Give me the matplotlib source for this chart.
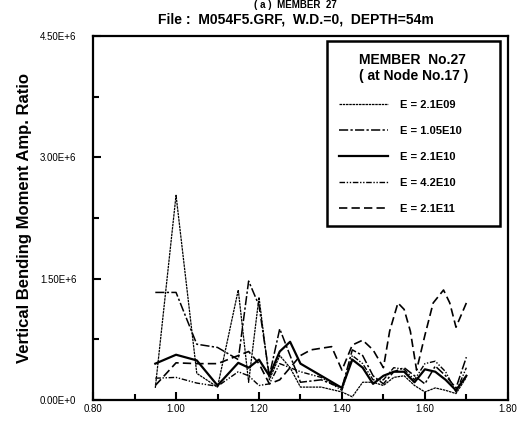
import matplotlib
matplotlib.use("Agg")
import matplotlib.pyplot as plt
from matplotlib.lines import Line2D
from matplotlib.ticker import MultipleLocator, FixedLocator, FormatStrFormatter

plt.rcParams['font.family'] = ['Liberation Sans', 'DejaVu Sans']

# frequency ratio (x) and amplitude ratio (y, in 1E6) per E value
x_a = [0.95, 1.00, 1.05, 1.10, 1.15, 1.175, 1.20, 1.225, 1.25, 1.275, 1.30, 1.35, 1.40, 1.425,
       1.45, 1.475, 1.50, 1.525, 1.55, 1.575, 1.60, 1.625, 1.65, 1.675, 1.70]
y_a = [0.15, 2.53, 0.33, 0.16, 1.36, 0.22, 1.27, 0.25, 0.55, 0.40, 0.16, 0.16, 0.10, 0.04,
       0.22, 0.22, 0.18, 0.28, 0.30, 0.18, 0.10, 0.15, 0.12, 0.08, 0.28]

x_b = [0.95, 1.00, 1.05, 1.10, 1.15, 1.175, 1.20, 1.225, 1.25, 1.275, 1.30, 1.35, 1.40, 1.425,
       1.45, 1.475, 1.50, 1.525, 1.55, 1.575, 1.60, 1.625, 1.65, 1.675, 1.70]
y_b = [1.33, 1.33, 0.69, 0.65, 0.50, 1.47, 1.17, 0.30, 0.88, 0.55, 0.22, 0.25, 0.15, 0.62,
       0.55, 0.30, 0.20, 0.35, 0.40, 0.30, 0.20, 0.42, 0.30, 0.15, 0.53]

x_c = [0.95, 1.00, 1.05, 1.10, 1.15, 1.175, 1.20, 1.225, 1.25, 1.275, 1.30, 1.35, 1.40, 1.425,
       1.45, 1.475, 1.50, 1.525, 1.55, 1.575, 1.60, 1.625, 1.65, 1.675, 1.70]
y_c = [0.45, 0.56, 0.49, 0.18, 0.46, 0.40, 0.50, 0.30, 0.60, 0.72, 0.45, 0.30, 0.15, 0.50,
       0.40, 0.20, 0.30, 0.35, 0.35, 0.22, 0.38, 0.35, 0.25, 0.12, 0.30]

x_d = [0.95, 1.00, 1.05, 1.10, 1.15, 1.175, 1.20, 1.225, 1.25, 1.275, 1.30, 1.35, 1.40, 1.425,
       1.45, 1.475, 1.50, 1.525, 1.55, 1.575, 1.60, 1.625, 1.65, 1.675, 1.70]
y_d = [0.27, 0.28, 0.21, 0.17, 0.35, 0.30, 0.18, 0.20, 0.45, 0.40, 0.35, 0.28, 0.12, 0.55,
       0.45, 0.25, 0.25, 0.40, 0.38, 0.25, 0.45, 0.48, 0.35, 0.10, 0.40]

x_e = [0.95, 1.00, 1.05, 1.10, 1.15, 1.175, 1.20, 1.225, 1.25, 1.275, 1.30, 1.325, 1.375, 1.40,
       1.425, 1.45, 1.475, 1.50, 1.515, 1.535, 1.55, 1.565, 1.58, 1.60, 1.62, 1.645, 1.66, 1.675, 1.70]
y_e = [0.18, 0.46, 0.45, 0.45, 0.55, 0.60, 0.45, 0.20, 0.25, 0.40, 0.55, 0.62, 0.66, 0.37,
       0.68, 0.74, 0.62, 0.40, 0.85, 1.20, 1.12, 0.85, 0.37, 0.80, 1.20, 1.36, 1.20, 0.90, 1.20]

labels = ["E = 2.1E09", "E = 1.05E10", "E = 2.1E10", "E = 4.2E10", "E = 2.1E11"]
styles = [(0, (2, 0.6)), (0, (6, 1.5, 1.5, 1.5)), '-', (0, (4, 1.2, 1, 1.2, 1, 1.2)), (0, (5, 2.5))]
widths = [0.9, 1.1, 1.6, 1.0, 1.2]
xticks = [0.8, 1.0, 1.2, 1.4, 1.6, 1.8]
yticks = [0, 1.5e6, 3.0e6, 4.5e6]
ytick_labels = ["0.00E+0", "1.50E+6", "3.00E+6", "4.50E+6"]

fig = plt.figure(figsize=(5.23, 4.22), dpi=100)
ax = fig.add_axes([0.178, 0.052, 0.793, 0.863])

series = [(x_a, y_a), (x_b, y_b), (x_c, y_c), (x_d, y_d), (x_e, y_e)]
for (xs, ys), ls, lw in zip(series, styles, widths):
    ax.plot(xs, [v * 1e6 for v in ys], color='black', linestyle=ls, linewidth=lw)

ax.set_xlim(0.8, 1.8)
ax.set_ylim(0, 4.5e6)
ax.xaxis.set_major_locator(FixedLocator(xticks))
ax.xaxis.set_major_formatter(FormatStrFormatter('%.2f'))
ax.xaxis.set_minor_locator(MultipleLocator(0.1))
ax.yaxis.set_major_locator(FixedLocator(yticks))
ax.set_yticklabels(ytick_labels)
ax.yaxis.set_minor_locator(MultipleLocator(0.75e6))
ax.tick_params(which='both', direction='in', width=1.5, labelsize=7)
ax.tick_params(which='major', length=6)
ax.tick_params(which='minor', length=4)
ax.tick_params(axis='y', pad=12)
ax.tick_params(axis='x', pad=3)
for s in ax.spines.values():
    s.set_linewidth(1.6)

ax.set_ylabel("Vertical Bending Moment Amp. Ratio", fontsize=12, fontweight='bold', labelpad=6)

fig.text(0.565, 1.0, "( a )  MEMBER  27", ha='center', va='top', fontsize=7, fontweight='bold')
fig.text(0.565, 0.953, "File :  M054F5.GRF,  W.D.=0,  DEPTH=54m", ha='center', va='center',
         fontsize=10, fontweight='bold')

handles = [Line2D([], [], color='black', linestyle=ls, linewidth=lw) for ls, lw in zip(styles, widths)]
leg = ax.legend(handles, labels, title="MEMBER  No.27\n( at Node No.17 )", loc='upper left',
                bbox_to_anchor=(0.564, 0.986, 0.417, 0.0), mode='expand', frameon=True,
                fancybox=False, framealpha=1, edgecolor='black',
                prop={'size': 8, 'weight': 'bold'},
                title_fontproperties={'size': 10, 'weight': 'bold'},
                handlelength=4.4, labelspacing=1.45, borderpad=1.1, handletextpad=1.1,
                borderaxespad=0)
leg.get_frame().set_linewidth(1.8)

fig.savefig("out.png", dpi=100)
